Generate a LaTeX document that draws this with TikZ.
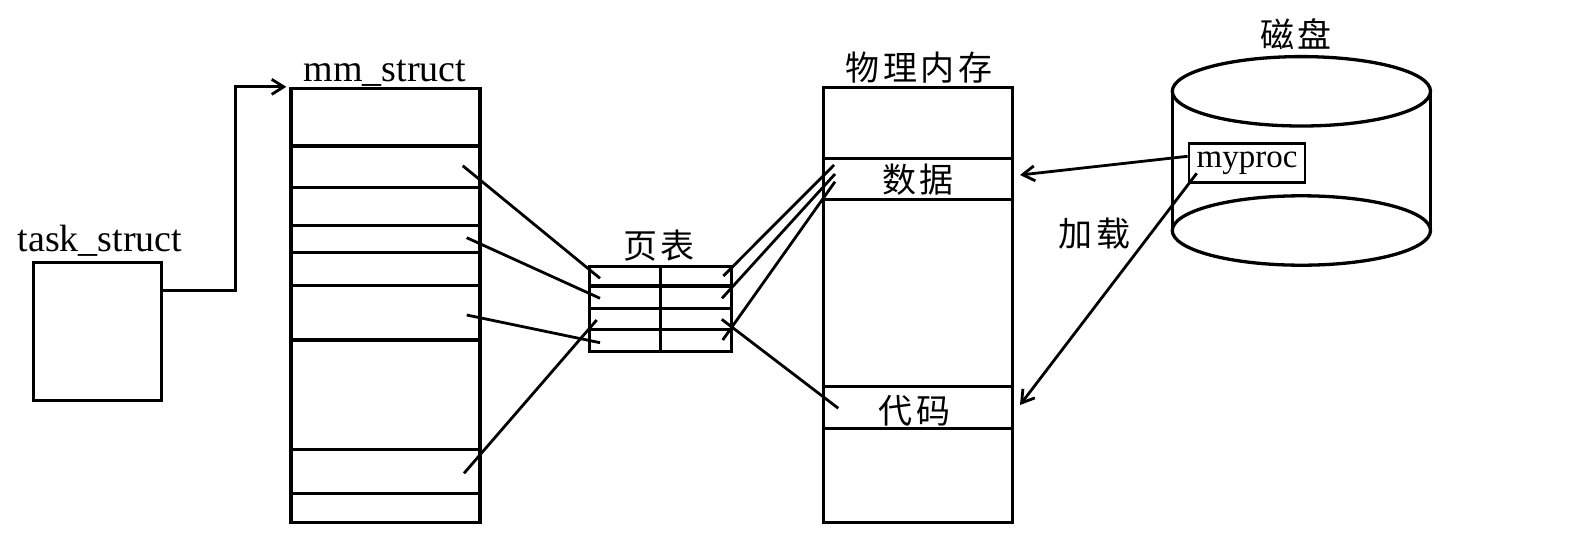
\documentclass[tikz,border=0pt]{standalone}
\usepackage{fontspec}
\setmainfont{Liberation Serif}
\newfontfamily\cjk[LetterSpace=10]{Noto Sans CJK SC}
\usetikzlibrary{arrows.meta}

\begin{document}
\begin{tikzpicture}[x=1pt, y=-1pt,
    box/.style={draw, line width=3.3pt, inner sep=0pt},
    wire/.style={line width=2.8pt},
    arr/.style={wire, -{Straight Barb[length=12pt, width=15pt]}},
    lat/.style={font=\fontsize{38}{44}\selectfont, inner sep=0pt},
    han/.style={font=\cjk\fontsize{34}{40}\selectfont, inner sep=0pt}]
  \useasboundingbox (0,0) rectangle (1592,554);

  % Boxes
  \node[box, minimum width=128pt, minimum height=138pt] (task) at (97.5,331.8) {};
  \node[box, minimum width=189pt, minimum height=434pt] (mm) at (385.5,305.5) {};
  \node[box, minimum width=142pt, minimum height=85pt] (pt) at (660.8,309.2) {};
  \node[box, minimum width=189pt, minimum height=435pt] (mem) at (917.7,305.2) {};

  % Titles
  \node[lat] (taskname) at (100,241) {task\_struct};
  \node[lat] (mmname) at (385,73) {mm\_struct};
  \node[han] (ptname) at (659,246) {页表};
  \node[han] (memname) at (919,68) {物理内存};
  \node[han] (diskname) at (1296,34) {磁盘};

  % Rows
  \foreach \r in {146,187.7,225.3,252.3,285.3,340,449.3,493.3}
    \draw[box] (mm.west |- 0,\r) -- (mm.east |- 0,\r);
  \foreach \r in {286,308.3,329.3}
    \draw[box] (pt.west |- 0,\r) -- (pt.east |- 0,\r);
  \draw[box] (pt.north) -- (pt.south);
  \foreach \r in {158.3,199.3,386.7,428.3}
    \draw[box] (mem.west |- 0,\r) -- (mem.east |- 0,\r);
  \node[han] (data) at (918,180) {数据};
  \node[han] (code) at (914.5,411) {代码};

  % Disk
  \coordinate (disk) at (1301.4,91.3);
  \draw[box] (disk) ellipse [x radius=129.1pt, y radius=34.7pt];
  \draw[box] ([xshift=-129.1pt]disk) -- ++(0,139.2);
  \draw[box] ([xshift=129.1pt]disk) -- ++(0,139.2);
  \draw[box] ([yshift=-139.2pt]disk) ellipse [x radius=129.1pt, y radius=34.7pt];
  \node[box, line width=2.8pt, minimum width=116pt, minimum height=39pt,
        font=\fontsize{33}{38}\selectfont] (myproc) at (1247,163.3) {myproc};
  \node[han] (load) at (1094.5,234) {加载};

  % Connector ends
  \coordinate (m1) at (462.7,165.7); \coordinate (p1) at (600,278.3);
  \coordinate (m2) at (466.7,237.7); \coordinate (p2) at (600,298.3);
  \coordinate (m3) at (466.7,315);   \coordinate (p4) at (600,342.7);
  \coordinate (m4) at (464,473.3);   \coordinate (p3) at (596.7,320);
  \coordinate (q1) at (723.3,276);   \coordinate (d1) at (834,165);
  \coordinate (q2) at (722,298.3);   \coordinate (d2) at (835,174);
  \coordinate (q4) at (722.7,340);   \coordinate (d3) at (835,181.7);
  \coordinate (q3) at (721.7,319.3); \coordinate (c1) at (838.3,408.3);
  \coordinate (dataIn) at (1020,175);
  \coordinate (codeIn) at (1020,405);
  \coordinate (procOut) at (1196.7,173.3);

  % Connections
  \draw[arr] ([yshift=41pt]task.east) -- ++(72.6,0) |- ([xshift=-3pt]mm.north west);
  \foreach \s/\t in {m1/p1, m2/p2, m3/p4, m4/p3, q1/d1, q2/d2, q4/d3, q3/c1}
    \draw[wire] (\s) -- (\t);
  \draw[arr] ([yshift=7pt]myproc.west) -- (dataIn);
  \draw[arr] (procOut) -- (codeIn);
\end{tikzpicture}
\end{document}
